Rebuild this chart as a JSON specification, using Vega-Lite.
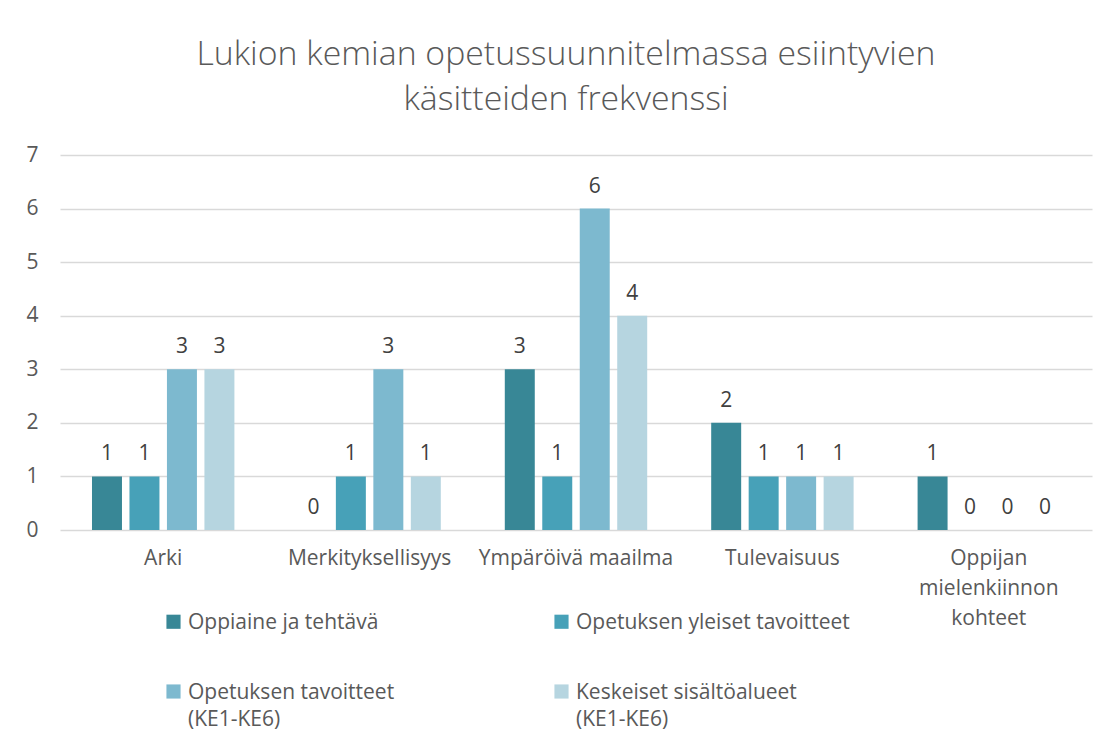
{
  "$schema": "https://vega.github.io/schema/vega-lite/v6.json",
  "autosize": {"type": "none"},
  "width": 1032,
  "height": 375,
  "padding": {"left": 60, "top": 155, "right": 17, "bottom": 203},
  "background": "white",
  "config": {
    "font": "Open Sans",
    "view": {"stroke": null}
  },
  "title": {
    "text": ["Lukion kemian opetussuunnitelmassa esiintyvien", "käsitteiden frekvenssi"],
    "fontSize": 33.8,
    "fontWeight": 300,
    "font": "Open Sans",
    "color": "#595959",
    "anchor": "middle",
    "dx": -10,
    "offset": 27,
    "lineHeight": 45
  },
  "data": {
    "values": [
      {"kasite": "Arki", "sarja": "Oppiaine ja tehtävä", "arvo": 1},
      {"kasite": "Arki", "sarja": "Opetuksen yleiset tavoitteet", "arvo": 1},
      {"kasite": "Arki", "sarja": "Opetuksen tavoitteet (KE1-KE6)", "arvo": 3},
      {"kasite": "Arki", "sarja": "Keskeiset sisältöalueet (KE1-KE6)", "arvo": 3},
      {"kasite": "Merkityksellisyys", "sarja": "Oppiaine ja tehtävä", "arvo": 0},
      {"kasite": "Merkityksellisyys", "sarja": "Opetuksen yleiset tavoitteet", "arvo": 1},
      {"kasite": "Merkityksellisyys", "sarja": "Opetuksen tavoitteet (KE1-KE6)", "arvo": 3},
      {"kasite": "Merkityksellisyys", "sarja": "Keskeiset sisältöalueet (KE1-KE6)", "arvo": 1},
      {"kasite": "Ympäröivä maailma", "sarja": "Oppiaine ja tehtävä", "arvo": 3},
      {"kasite": "Ympäröivä maailma", "sarja": "Opetuksen yleiset tavoitteet", "arvo": 1},
      {"kasite": "Ympäröivä maailma", "sarja": "Opetuksen tavoitteet (KE1-KE6)", "arvo": 6},
      {"kasite": "Ympäröivä maailma", "sarja": "Keskeiset sisältöalueet (KE1-KE6)", "arvo": 4},
      {"kasite": "Tulevaisuus", "sarja": "Oppiaine ja tehtävä", "arvo": 2},
      {"kasite": "Tulevaisuus", "sarja": "Opetuksen yleiset tavoitteet", "arvo": 1},
      {"kasite": "Tulevaisuus", "sarja": "Opetuksen tavoitteet (KE1-KE6)", "arvo": 1},
      {"kasite": "Tulevaisuus", "sarja": "Keskeiset sisältöalueet (KE1-KE6)", "arvo": 1},
      {"kasite": "Oppijan mielenkiinnon kohteet", "sarja": "Oppiaine ja tehtävä", "arvo": 1},
      {"kasite": "Oppijan mielenkiinnon kohteet", "sarja": "Opetuksen yleiset tavoitteet", "arvo": 0},
      {"kasite": "Oppijan mielenkiinnon kohteet", "sarja": "Opetuksen tavoitteet (KE1-KE6)", "arvo": 0},
      {"kasite": "Oppijan mielenkiinnon kohteet", "sarja": "Keskeiset sisältöalueet (KE1-KE6)", "arvo": 0}
    ]
  },
  "encoding": {
    "x": {
      "field": "kasite",
      "type": "nominal",
      "sort": null,
      "title": null,
      "scale": {"paddingInner": 0.31, "paddingOuter": 0.155},
      "axis": {
        "labelAngle": 0,
        "labelFontSize": 21,
        "labelColor": "#595959",
        "labelPadding": 17,
        "labelLineHeight": 30,
        "labelExpr": "datum.value == 'Oppijan mielenkiinnon kohteet' ? ['Oppijan', 'mielenkiinnon', 'kohteet'] : datum.value",
        "ticks": false,
        "domain": false,
        "labelLimit": 300
      }
    },
    "xOffset": {
      "field": "sarja",
      "type": "nominal",
      "sort": null,
      "scale": {"paddingInner": 0.2}
    },
    "y": {
      "field": "arvo",
      "type": "quantitative",
      "title": null,
      "scale": {"domain": [0, 7], "nice": false},
      "axis": {
        "values": [0, 1, 2, 3, 4, 5, 6, 7],
        "labelFontSize": 21,
        "labelColor": "#595959",
        "labelPadding": 22,
        "labelOverlap": false,
        "ticks": false,
        "domain": false,
        "gridColor": "#d9d9d9",
        "gridWidth": 1.5
      }
    }
  },
  "layer": [
    {
      "mark": {"type": "bar"},
      "encoding": {
        "color": {
          "field": "sarja",
          "type": "nominal",
          "sort": null,
          "scale": {
            "domain": ["Oppiaine ja tehtävä", "Opetuksen yleiset tavoitteet", "Opetuksen tavoitteet (KE1-KE6)", "Keskeiset sisältöalueet (KE1-KE6)"],
            "range": ["#388796", "#47a1b8", "#7db9cf", "#b6d5e0"]
          },
          "legend": {
            "title": null,
            "orient": "none",
            "legendX": 103,
            "legendY": 456,
            "direction": "horizontal",
            "columns": 2,
            "symbolType": "square",
            "symbolSize": 200,
            "symbolStrokeWidth": 0,
            "labelFontSize": 21,
            "labelColor": "#595959",
            "labelLimit": 400,
            "labelOffset": 4,
            "columnPadding": 156,
            "rowPadding": 48,
            "labelBaseline": "top",
            "encode": {"labels": {"update": {"dy": {"value": -10}, "lineHeight": {"value": 27}}}},
            "labelExpr": "datum.value == 'Opetuksen tavoitteet (KE1-KE6)' ? ['Opetuksen tavoitteet', '(KE1-KE6)'] : datum.value == 'Keskeiset sisältöalueet (KE1-KE6)' ? ['Keskeiset sisältöalueet', '(KE1-KE6)'] : datum.value"
          }
        }
      }
    },
    {
      "mark": {"type": "text", "baseline": "bottom", "dy": -12, "fontSize": 21, "color": "#404040"},
      "encoding": {
        "text": {"field": "arvo", "type": "quantitative"}
      }
    }
  ]
}
